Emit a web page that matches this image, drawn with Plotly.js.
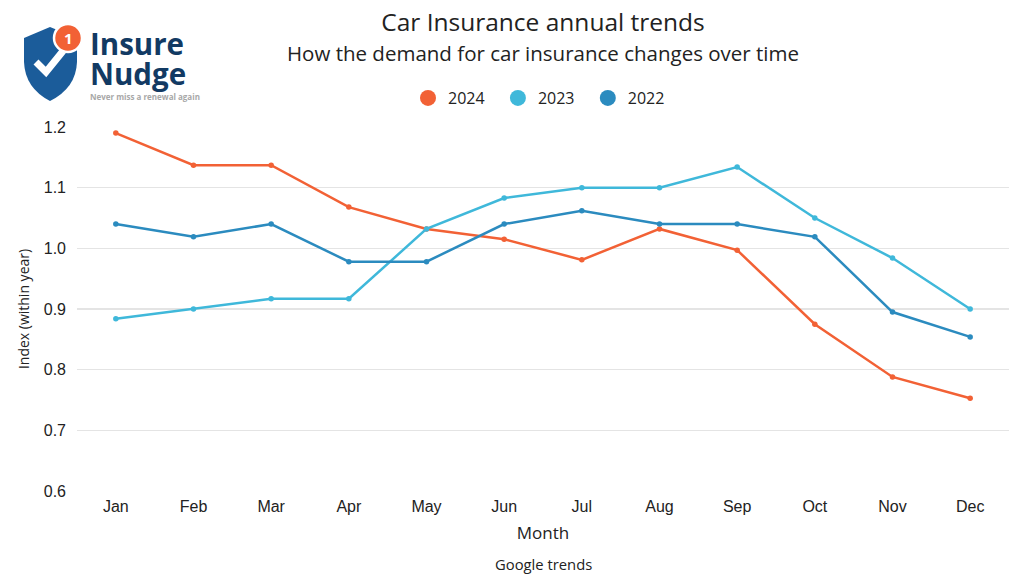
<!DOCTYPE html>
<html><head><meta charset="utf-8">
<script src="https://cdn.plot.ly/plotly-3.0.1.min.js"></script>
<style>html,body{margin:0;padding:0;background:#fff}#chart{width:1024px;height:576px}</style>
</head><body><div id="chart"></div>
<script>
const months = ["Jan","Feb","Mar","Apr","May","Jun","Jul","Aug","Sep","Oct","Nov","Dec"];
const seriesNames = ["2024","2023","2022"];
const v2024 = [1.190,1.137,1.137,1.068,1.032,1.015,0.981,1.032,0.997,0.875,0.788,0.753];
const v2023 = [0.884,0.900,0.917,0.917,1.032,1.083,1.100,1.100,1.134,1.050,0.984,0.900];
const v2022 = [1.040,1.019,1.040,0.978,0.978,1.040,1.062,1.040,1.040,1.019,0.895,0.854];
const yTicks = [0.6,0.7,0.8,0.9,1.0,1.1,1.2];
const colors = ["#F26135","#3FB8DA","#2B8BBF"];
const values = [v2024, v2023, v2022];

const W=1024,H=576, L=77, R=15, T=127, B=85;
const pw=W-L-R, ph=H-T-B;
const px=x=>(x-L)/pw, py=y=>(H-B-y)/ph;
const sans='Liberation Sans, Arial, sans-serif';
const open='Open Sans, sans-serif';

const traces=[];
values.forEach((v,i)=>{
  traces.push({x:months,y:v,mode:'lines+markers',type:'scatter',name:seriesNames[i],showlegend:false,
    line:{color:colors[i],width:2.5},marker:{color:colors[i],size:5.5}});
});
values.forEach((v,i)=>{
  traces.push({x:[null],y:[null],mode:'markers',type:'scatter',name:seriesNames[i]+'\u00A0\u00A0',showlegend:true,
    marker:{color:colors[i],size:17}});
});

const shieldPath = `M ${px(24)},${py(38)} L ${px(50)},${py(27)} L ${px(77)},${py(38)} L ${px(77)},${py(62)} Q ${px(76)},${py(88)} ${px(50)},${py(101)} Q ${px(25)},${py(88)} ${px(24)},${py(62)} Z`;
const checkPath = `M ${px(36)},${py(62)} L ${px(46)},${py(72)} L ${px(63)},${py(51)}`;

const layout={
  width:W,height:H,
  margin:{l:L,r:R,t:T,b:B},
  paper_bgcolor:'#fff',plot_bgcolor:'#fff',
  font:{family:open,color:'#222'},
  title:{text:'Car Insurance annual trends',x:543/W,xanchor:'center',y:1-22/H,yanchor:'middle',font:{size:24.5,color:'#222'}},
  xaxis:{type:'category',range:[-0.5,11.5],showgrid:false,zeroline:false,showline:false,ticks:'',
    tickfont:{size:16,color:'#222',family:sans},ticklabelstandoff:4,
    title:{text:'Month',font:{size:17,color:'#222'},standoff:13}},
  yaxis:{range:[0.6,1.2],tickvals:yTicks,ticktext:yTicks.map(t=>t.toFixed(1)),showgrid:true,gridcolor:'#e4e4e4',gridwidth:1.5,
    zeroline:false,showline:false,ticks:'',tickfont:{size:16,color:'#222',family:sans},ticklabelstandoff:10,
    title:{text:'Index (within year)',font:{size:14,color:'#222'},standoff:10}},
  legend:{orientation:'h',x:543/W,xref:'container',xanchor:'center',y:1-98/H,yref:'container',yanchor:'middle',
    font:{size:16,color:'#222'},itemwidth:30,traceorder:'normal'},
  annotations:[
    {text:'How the demand for car insurance changes over time',xref:'paper',yref:'paper',x:px(543),y:py(53),xanchor:'center',yanchor:'middle',showarrow:false,font:{size:20.5,color:'#222'}},
    {text:'Google trends',xref:'paper',yref:'paper',x:px(543),y:py(564),xanchor:'center',yanchor:'middle',showarrow:false,font:{size:14.8,color:'#222'}},
    {text:'<b><span style="font-size:29.5px">Insure</span></b><br><b><span style="font-size:29.5px">Nudge</span></b>',xref:'paper',yref:'paper',x:px(88),y:py(58),xanchor:'left',yanchor:'middle',align:'left',showarrow:false,font:{size:23.1,color:'#123a63'}},
    {text:'<b>Never miss a renewal again</b>',xref:'paper',yref:'paper',x:px(88),y:py(96),xanchor:'left',yanchor:'middle',showarrow:false,font:{size:8,color:'#a8a8a8'}},
    {text:'<b>1</b>',xref:'paper',yref:'paper',x:px(68),y:py(38),xanchor:'center',yanchor:'middle',showarrow:false,font:{size:15,color:'#fff'}}
  ],
  shapes:[
    {type:'path',xref:'paper',yref:'paper',path:shieldPath,fillcolor:'#1b5c9a',line:{width:0}},
    {type:'path',xref:'paper',yref:'paper',path:checkPath,line:{color:'#fff',width:7},fillcolor:'rgba(0,0,0,0)'},
    {type:'circle',xref:'paper',yref:'paper',x0:px(54),x1:px(82),y0:py(24),y1:py(52),fillcolor:'#F26135',line:{color:'#fff',width:2.5}}
  ]
};
Plotly.newPlot('chart',traces,layout,{displayModeBar:false,staticPlot:true});
</script></body></html>
